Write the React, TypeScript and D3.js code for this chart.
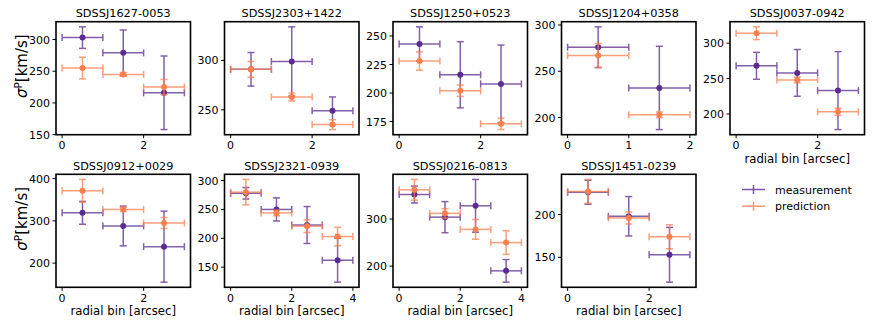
import React from "react";
import * as d3 from "d3";

const titles = [
  "SDSSJ1627-0053", "SDSSJ2303+1422", "SDSSJ1250+0523", "SDSSJ1204+0358", "SDSSJ0037-0942",
  "SDSSJ0912+0029", "SDSSJ2321-0939", "SDSSJ0216-0813", "SDSSJ1451-0239",
];
const measVals = [
  [303, 279, 216], [291, 299, 249], [243, 216, 208], [276, 232], [268, 258, 233],
  [319, 288, 239], [278, 250, 223, 162], [352, 304, 328, 190], [226, 198, 153],
];
const measErrs = [
  [17, 36, 58], [17, 35, 14], [15, 29, 34], [22, 45], [19, 33, 55],
  [27, 47, 84], [10, 20, 32, 38], [18, 33, 56, 24], [14, 23, 32],
];
const predVals = [
  [255, 245, 225], [291, 263, 235], [228, 202, 173], [267, 203], [314, 248, 203],
  [371, 327, 295], [280, 244, 221, 203], [362, 312, 278, 250], [227, 196, 174],
];
const predErrs = [
  [17, 3, 12], [8, 4, 5], [8, 5, 5], [13, 3], [9, 4, 5],
  [27, 5, 13], [22, 5, 11, 16], [22, 10, 21, 25], [14, 7, 14],
];
const yTicks = [
  [150, 200, 250, 300], [250, 300], [175, 200, 225, 250], [200, 250, 300], [200, 250, 300],
  [200, 300, 400], [150, 200, 250, 300], [200, 300], [150, 200],
];
const xTicks = [
  [0, 2], [0, 2], [0, 2], [0, 1, 2], [0, 2],
  [0, 2], [0, 2, 4], [0, 2, 4], [0, 2],
];
const seriesNames = ["measurement", "prediction"];

const PURPLE = "#5b2c91";
const ORANGE = "#fc7f4e";
const FONT = "DejaVu Sans, sans-serif";

const colLefts = [56, 224.5, 393, 561.5, 730];
const rowTops = [21.7, 174.3];
const PW = 134.5;
const PH = 113;

function ErrSeries({ vals, errs, color, x, y }: any) {
  return (
    <g>
      {vals.map((v: number, i: number) => {
        const cx = x(i + 0.5);
        const cy = y(v);
        const x0 = x(i);
        const x1 = x(i + 1);
        const y0 = y(v - errs[i]);
        const y1 = y(v + errs[i]);
        const cap = 3.5;
        return (
          <g key={i}>
            <g stroke={color} strokeWidth={1.5} opacity={0.75}>
              <line x1={x0} x2={x1} y1={cy} y2={cy} />
              <line x1={cx} x2={cx} y1={y0} y2={y1} />
              <line x1={x0} x2={x0} y1={cy - cap} y2={cy + cap} />
              <line x1={x1} x2={x1} y1={cy - cap} y2={cy + cap} />
              <line x1={cx - cap} x2={cx + cap} y1={y0} y2={y0} />
              <line x1={cx - cap} x2={cx + cap} y1={y1} y2={y1} />
            </g>
            <circle cx={cx} cy={cy} r={3} fill={color} />
          </g>
        );
      })}
    </g>
  );
}

function Panel({ idx }: { idx: number }) {
  const row = idx < 5 ? 0 : 1;
  const col = idx < 5 ? idx : idx - 5;
  const left = colLefts[col];
  const top = rowTops[row];
  const n = measVals[idx].length;
  const x = d3.scaleLinear().domain([-0.05 * n, n * 1.05]).range([left, left + PW]);
  const lows: number[] = [];
  const highs: number[] = [];
  measVals[idx].forEach((v, i) => { lows.push(v - measErrs[idx][i]); highs.push(v + measErrs[idx][i]); });
  predVals[idx].forEach((v, i) => { lows.push(v - predErrs[idx][i]); highs.push(v + predErrs[idx][i]); });
  const lo = d3.min(lows)!;
  const hi = d3.max(highs)!;
  const m = (hi - lo) * 0.05;
  const y = d3.scaleLinear().domain([lo - m, hi + m]).range([top + PH, top]);
  const bottom = top + PH;
  const showXLabel = row === 1 || col === 4;
  const showYLabel = col === 0;
  return (
    <g>
      <clipPath id={`clip${idx}`}>
        <rect x={left} y={top} width={PW} height={PH} />
      </clipPath>
      <g clipPath={`url(#clip${idx})`}>
        <ErrSeries vals={measVals[idx]} errs={measErrs[idx]} color={PURPLE} x={x} y={y} />
        <ErrSeries vals={predVals[idx]} errs={predErrs[idx]} color={ORANGE} x={x} y={y} />
      </g>
      <rect x={left} y={top} width={PW} height={PH} fill="none" stroke="#000" strokeWidth={1.6} />
      <text x={left + PW / 2} y={top - 4.5} textAnchor="middle" fontSize={11.3} fontFamily={FONT}>
        {titles[idx]}
      </text>
      {xTicks[idx].map((t) => (
        <g key={"x" + t}>
          <line x1={x(t)} x2={x(t)} y1={bottom} y2={bottom + 3.5} stroke="#000" strokeWidth={1} />
          <text x={x(t)} y={bottom + 14.5} textAnchor="middle" fontSize={11} fontFamily={FONT}>{t}</text>
        </g>
      ))}
      {yTicks[idx].map((t) => (
        <g key={"y" + t}>
          <line x1={left - 3.5} x2={left} y1={y(t)} y2={y(t)} stroke="#000" strokeWidth={1} />
          <text x={left - 6} y={y(t) + 4} textAnchor="end" fontSize={11} fontFamily={FONT}>{t}</text>
        </g>
      ))}
      {showXLabel && (
        <text x={left + PW / 2} y={bottom + 28} textAnchor="middle" fontSize={11.7} fontFamily={FONT}>
          radial bin [arcsec]
        </text>
      )}
      {showYLabel && (
        <text
          transform={`translate(${left - 29},${top + PH / 2 - 12}) rotate(-90)`}
          textAnchor="middle"
          fontSize={15}
          fontFamily={FONT}
        >
          <tspan fontStyle="italic">σ</tspan>
          <tspan dy={-5.5} fontSize={10.5}>P</tspan>
          <tspan dy={5.5}>[km/s]</tspan>
        </text>
      )}
    </g>
  );
}

export default function App() {
  const legendColors = [PURPLE, ORANGE];
  return (
    <svg width={872} height={327} style={{ position: "absolute", left: 0, top: 0 }}>
      <rect width={872} height={327} fill="#fff" />
      {titles.map((_, i) => (
        <Panel key={i} idx={i} />
      ))}
      {seriesNames.map((name, i) => {
        const ly = 189.5 + i * 16.7;
        return (
          <g key={name}>
            <g stroke={legendColors[i]} strokeWidth={1.5} opacity={0.8}>
              <line x1={742} x2={765} y1={ly} y2={ly} />
              <line x1={753.5} x2={753.5} y1={ly - 4.5} y2={ly + 4.5} />
            </g>
            <text x={775} y={ly + 4} fontSize={11} fontFamily={FONT}>{name}</text>
          </g>
        );
      })}
    </svg>
  );
}
